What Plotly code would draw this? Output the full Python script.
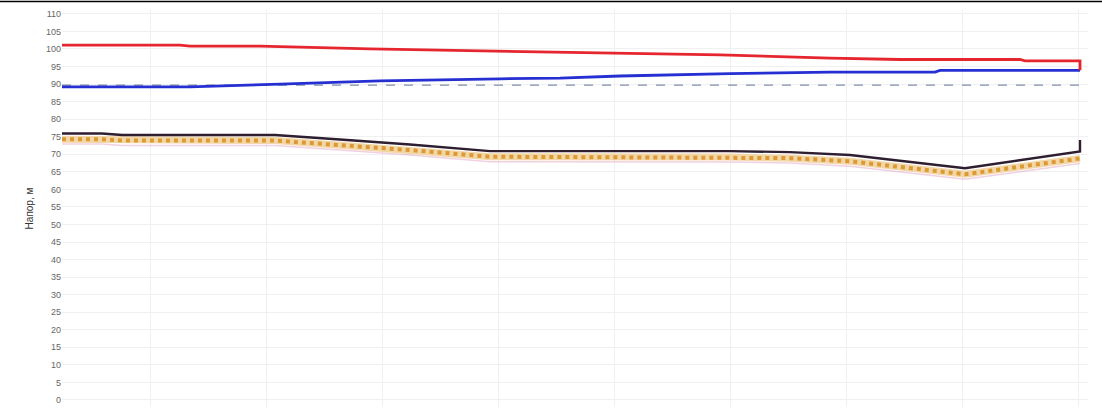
import plotly.graph_objects as go

# distance along the profile (arbitrary units)
red_x = [0, 118, 128, 198, 308, 438, 558, 658, 768, 838, 958, 963, 1018, 1018]
red_y = [101.1, 101.1, 100.8, 100.8, 100.0, 99.4, 98.9, 98.3, 97.4, 97.0, 97.0, 96.6, 96.6, 93.9]

blue_x = [0, 128, 218, 318, 438, 498, 558, 668, 768, 873, 878, 1018]
blue_y = [89.2, 89.2, 90.0, 90.9, 91.5, 91.7, 92.3, 93.0, 93.4, 93.4, 93.9, 93.9]

dash_x = [0, 1023]
dash_y = [89.7, 89.7]

ground_x = [0, 40, 60, 213, 278, 348, 428, 668, 728, 788, 903, 1018, 1018]
ground_y = [75.9, 75.9, 75.5, 75.5, 74.2, 72.8, 70.9, 70.9, 70.6, 69.8, 66.0, 70.8, 74.1]

pipe_x = [0, 40, 60, 213, 278, 348, 428, 668, 728, 788, 903, 1018]
pipe_y = [74.3, 74.3, 73.9, 73.9, 72.6, 71.2, 69.3, 69.2, 68.9, 68.0, 64.3, 68.8]

y_ticks = list(range(0, 115, 5))

fig = go.Figure()

# faint pink line under the pipe band
fig.add_trace(go.Scatter(x=pipe_x, y=[v - 1.4 for v in pipe_y], mode="lines",
                         line=dict(color="rgba(230,170,200,0.55)", width=1.5),
                         hoverinfo="skip", showlegend=False))
# pipe band (pale base + dotted orange)
fig.add_trace(go.Scatter(x=pipe_x, y=pipe_y, mode="lines",
                         line=dict(color="#f2d6a6", width=7),
                         hoverinfo="skip", showlegend=False))
fig.add_trace(go.Scatter(x=pipe_x, y=pipe_y, mode="lines",
                         line=dict(color="#dc9a36", width=4, dash="dot"),
                         hoverinfo="skip", showlegend=False))
# ground line
fig.add_trace(go.Scatter(x=ground_x, y=ground_y, mode="lines",
                         line=dict(color="#2e1e30", width=2.4),
                         showlegend=False))
# dashed reference line
fig.add_trace(go.Scatter(x=dash_x, y=dash_y, mode="lines",
                         line=dict(color="#7f8fa8", width=1.2, dash="dash"),
                         showlegend=False))
# blue line
fig.add_trace(go.Scatter(x=blue_x, y=blue_y, mode="lines",
                         line=dict(color="#2630d2", width=2.8),
                         showlegend=False))
# red line
fig.add_trace(go.Scatter(x=red_x, y=red_y, mode="lines",
                         line=dict(color="#e6262e", width=2.8),
                         showlegend=False))

fig.update_layout(
    width=1102, height=414,
    margin=dict(l=62, r=14, t=10, b=7, autoexpand=False),
    paper_bgcolor="white", plot_bgcolor="white",
    font=dict(family="Liberation Sans, Arial, sans-serif", color="#555555"),
    xaxis=dict(range=[0, 1026], showticklabels=False, ticks="", automargin=False,
               showgrid=True, gridcolor="#efefef", gridwidth=1,
               tick0=88, dtick=116, zeroline=False, showline=False),
    yaxis=dict(range=[-2, 111.1], tickvals=y_ticks, ticktext=[str(v) for v in y_ticks],
               tickfont=dict(size=9, color="#666666"), automargin=False,
               showgrid=True, gridcolor="#f0f0f0", gridwidth=1,
               zeroline=False, showline=False, ticks="",
               title=dict(text="Напор, м", font=dict(size=10, color="#333333"), standoff=10)),
    shapes=[dict(type="line", xref="paper", yref="paper",
                 x0=-62 / 1026, x1=(1102 - 62) / 1026,
                 y0=1 + 8.5 / 397, y1=1 + 8.5 / 397,
                 line=dict(color="#000000", width=1.5))],
)

fig.write_html("out.html", config={"displayModeBar": False},
               post_script="document.body.style.margin='0';document.body.style.overflow='hidden';")
